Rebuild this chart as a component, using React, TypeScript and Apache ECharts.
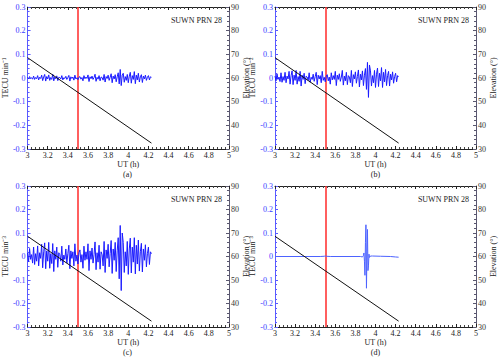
import React, { useEffect, useRef } from "react";
import * as echarts from "echarts";

const xTicksMin = 3;
const xTicksMax = 5;
const tecuMin = -0.3;
const tecuMax = 0.3;
const elevMin = 30;
const elevMax = 90;
const sampleStart = 3.0;
const sampleStep = 0.01;
const redLineTime = 3.5;
const stationLabel = "SUWN PRN 28";
const panelLetters = ["(a)", "(b)", "(c)", "(d)"];
const yNames = ["TECU min⁻¹", "TECU min⁻²", "TECU min⁻³", "TECU min⁻³"];

const elevationTimes = [3.0, 4.23];
const elevationValues = [68.6, 32.5];

const valuesA = [
  0.003, -0.004, 0.006, -0.002, 0.001, -0.005, 0.008, -0.006, 0.002, -0.003,
  0.010, -0.008, 0.003, -0.002, 0.012, -0.011, 0.004, 0.015, -0.013, 0.006,
  -0.004, 0.013, -0.010, 0.002, -0.006, 0.016, -0.012, 0.004, -0.003, 0.009,
  -0.011, 0.003, 0.002, -0.004, 0.010, -0.008, 0.001, -0.002, 0.007, -0.006,
  0.002, 0.011, -0.013, 0.005, -0.002, 0.004, -0.009, 0.012, -0.004, 0.001,
  -0.007, 0.003, 0.006, -0.005, 0.002, -0.012, 0.010, -0.003, 0.004, -0.002,
  0.013, -0.015, 0.005, -0.003, 0.008, -0.006, 0.002, 0.016, -0.014, 0.003,
  -0.005, 0.010, -0.012, 0.004, 0.002, -0.009, 0.015, -0.017, 0.006, -0.002,
  0.012, -0.010, 0.003, 0.018, -0.020, 0.008, -0.004, 0.014, -0.016, 0.005,
  0.022, -0.025, 0.036, -0.032, 0.012, 0.020, -0.018, 0.006, -0.010, 0.015,
  -0.020, 0.008, 0.024, -0.022, 0.010, -0.006, 0.027, -0.024, 0.012, -0.008,
  0.020, -0.017, 0.005, 0.014, -0.019, 0.008, -0.004, 0.012, -0.010, 0.003,
  0.010, -0.008, 0.005, 0.003,
];

const valuesB = [
  0.008, -0.012, 0.018, -0.006, 0.004, -0.015, 0.022, -0.018, 0.006, -0.010,
  0.024, -0.020, 0.008, -0.004, 0.028, -0.026, 0.010, 0.030, -0.028, 0.012,
  -0.010, 0.032, -0.026, 0.006, -0.014, 0.028, -0.034, 0.012, -0.006, 0.020,
  -0.024, 0.008, 0.004, -0.010, 0.022, -0.018, 0.003, -0.006, 0.016, -0.014,
  0.006, 0.024, -0.028, 0.012, -0.004, 0.010, -0.020, 0.028, -0.010, 0.003,
  -0.016, 0.008, 0.014, -0.012, 0.004, -0.026, 0.022, -0.008, 0.010, -0.006,
  0.028, -0.032, 0.012, -0.006, 0.018, -0.014, 0.004, 0.032, -0.030, 0.008,
  -0.012, 0.024, -0.028, 0.010, 0.004, -0.020, 0.032, -0.036, 0.014, -0.004,
  0.026, -0.022, 0.006, 0.034, -0.038, 0.016, -0.008, 0.030, -0.032, 0.012,
  0.040, -0.048, 0.066, -0.082, 0.055, 0.030, -0.034, 0.010, -0.020, 0.032,
  -0.040, 0.016, 0.042, -0.036, 0.020, -0.012, 0.044, -0.040, 0.024, -0.016,
  0.036, -0.032, 0.010, 0.028, -0.034, 0.016, -0.008, 0.026, -0.022, 0.006,
  0.020, -0.016, 0.010, 0.006,
];

const valuesC = [
  0.015, -0.022, 0.034, -0.012, 0.008, -0.028, 0.040, -0.034, 0.012, -0.020,
  0.045, -0.040, 0.016, -0.008, 0.052, -0.048, 0.020, 0.058, -0.052, 0.024,
  -0.020, 0.060, -0.050, 0.012, -0.030, 0.055, -0.064, 0.024, -0.012, 0.040,
  -0.046, 0.016, 0.008, -0.020, 0.044, -0.036, 0.006, -0.012, 0.032, -0.028,
  0.012, 0.048, -0.052, 0.024, -0.008, 0.020, -0.040, 0.054, -0.020, 0.006,
  -0.032, 0.016, 0.028, -0.024, 0.008, -0.050, 0.044, -0.016, 0.020, -0.012,
  0.054, -0.060, 0.024, -0.012, 0.036, -0.028, 0.008, 0.062, -0.056, 0.016,
  -0.024, 0.048, -0.054, 0.020, 0.008, -0.040, 0.064, -0.068, 0.028, -0.008,
  0.052, -0.044, 0.012, 0.068, -0.072, 0.032, -0.016, 0.060, -0.064, 0.024,
  0.080, -0.095, 0.132, -0.145, 0.100, 0.060, -0.068, 0.020, -0.040, 0.064,
  -0.076, 0.032, 0.078, -0.070, 0.040, -0.024, 0.080, -0.074, 0.048, -0.032,
  0.070, -0.062, 0.020, 0.056, -0.066, 0.032, -0.016, 0.050, -0.044, 0.012,
  0.040, -0.034, 0.020, 0.012,
];

const timesD = [
  3.0, 3.45, 3.49, 3.5, 3.51, 3.55, 3.85, 3.87, 3.88, 3.885, 3.89, 3.895,
  3.9, 3.905, 3.91, 3.915, 3.92, 3.925, 3.93, 3.935, 3.94, 3.95, 3.97, 4.05,
  4.15, 4.2, 4.23,
];
const valuesD = [
  0.0, 0.0, 0.001, 0.002, 0.001, 0.0, 0.0, -0.002, 0.004, 0.015, -0.02, -0.08,
  0.06, 0.135, -0.135, 0.02, 0.115, -0.06, -0.04, 0.01, -0.004, 0.002, 0.002, 0.001,
  0.0, -0.002, -0.003,
];

const panelRects = [
  { left: 26, top: 7, width: 203, height: 142 },
  { left: 275, top: 7, width: 201, height: 142 },
  { left: 26, top: 186, width: 203, height: 141 },
  { left: 275, top: 186, width: 201, height: 141 },
];

const FONT = "'Liberation Serif', 'Times New Roman', serif";
const FS = 8;

function gridSeries(values: number[]) {
  return values.map((v, i) => [sampleStart + i * sampleStep, v]);
}

export default function App() {
  const ref = useRef<HTMLDivElement>(null);
  useEffect(() => {
    document.body.style.margin = "0";
    if (!ref.current) return;
    const chart = echarts.init(ref.current, null, { renderer: "svg" });

    const panelData = [
      gridSeries(valuesA),
      gridSeries(valuesB),
      gridSeries(valuesC),
      timesD.map((t, i) => [t, valuesD[i]]),
    ];
    const blueColors = ["#1a1aff", "#1a1aff", "#1a1aff", "#4d63ff"];

    const grids: any[] = [];
    const xAxes: any[] = [];
    const yAxes: any[] = [];
    const series: any[] = [];
    const graphics: any[] = [];

    panelRects.forEach((r, k) => {
      grids.push({ left: r.left, top: r.top, width: r.width, height: r.height, containLabel: false });
      const xBase = {
        type: "value",
        gridIndex: k,
        min: xTicksMin,
        max: xTicksMax,
        interval: 0.2,
        axisLine: { show: true, onZero: false, lineStyle: { color: "#222", width: 1 } },
        axisTick: { show: true, inside: true, length: 3, lineStyle: { color: "#222" } },
        minorTick: { show: true, splitNumber: 5, length: 2, lineStyle: { color: "#444" } },
        splitLine: { show: false },
      };
      xAxes.push({
        ...xBase,
        position: "bottom",
        name: "UT (h)",
        nameLocation: "middle",
        nameGap: 11,
        nameTextStyle: { fontFamily: FONT, fontSize: FS, color: "#222" },
        axisLabel: { show: true, margin: 2, fontFamily: FONT, fontSize: FS, color: "#222" },
      });
      xAxes.push({ ...xBase, position: "top", axisLabel: { show: false } });
      yAxes.push({
        type: "value",
        gridIndex: k,
        position: "left",
        min: tecuMin,
        max: tecuMax,
        interval: 0.1,
        name: yNames[k],
        nameLocation: "middle",
        nameGap: 15,
        nameTextStyle: { fontFamily: FONT, fontSize: FS, color: "#222" },
        axisLine: { show: true, onZero: false, lineStyle: { color: "#5a5aff", width: 1 } },
        axisTick: { show: true, inside: true, length: 3, lineStyle: { color: "#5a5aff" } },
        minorTick: { show: true, splitNumber: 5, length: 2, lineStyle: { color: "#5a5aff" } },
        axisLabel: {
          margin: 2,
          fontFamily: FONT,
          fontSize: FS,
          color: "#3a3aff",
          formatter: (v: number) => String(Math.round(v * 10) / 10),
        },
        splitLine: { show: false },
      });
      yAxes.push({
        type: "value",
        gridIndex: k,
        position: "right",
        min: elevMin,
        max: elevMax,
        interval: 10,
        name: "Elevation (°)",
        nameLocation: "middle",
        nameGap: 12,
        nameTextStyle: { fontFamily: FONT, fontSize: FS, color: "#222" },
        axisLine: { show: true, onZero: false, lineStyle: { color: "#5a5870", width: 1 } },
        axisTick: { show: true, inside: true, length: 3, lineStyle: { color: "#5a5870" } },
        minorTick: { show: true, splitNumber: 5, length: 2, lineStyle: { color: "#5a5870" } },
        axisLabel: { margin: 2, fontFamily: FONT, fontSize: FS, color: "#333" },
        splitLine: { show: false },
      });

      series.push({
        type: "line",
        xAxisIndex: k * 2,
        yAxisIndex: k * 2,
        data: panelData[k],
        showSymbol: false,
        symbol: "none",
        lineStyle: { color: blueColors[k], width: 1 },
        z: 3,
        markLine: {
          silent: true,
          symbol: "none",
          label: { show: false },
          lineStyle: { color: "#ff2a2a", width: 1.5, type: "solid" },
          data: [{ xAxis: redLineTime }],
          z: 2,
        },
      });
      series.push({
        type: "line",
        xAxisIndex: k * 2,
        yAxisIndex: k * 2 + 1,
        data: elevationTimes.map((t, i) => [t, elevationValues[i]]),
        showSymbol: false,
        symbol: "none",
        lineStyle: { color: "#111", width: 1 },
        z: 4,
      });

      graphics.push({
        type: "text",
        right: 500 - (r.left + r.width - 7),
        top: r.top + 9,
        style: { text: stationLabel, font: `${FS}px ${FONT}`, fill: "#222" },
      });
      graphics.push({
        type: "text",
        x: r.left + r.width / 2,
        y: r.top + r.height + 25,
        style: {
          text: panelLetters[k],
          font: `${FS}px ${FONT}`,
          fill: "#222",
          textAlign: "center",
          textVerticalAlign: "middle",
        },
      });
    });

    chart.setOption({
      animation: false,
      backgroundColor: "#ffffff",
      grid: grids,
      xAxis: xAxes,
      yAxis: yAxes,
      series,
      graphic: graphics,
    });
    return () => chart.dispose();
  }, []);
  return <div ref={ref} style={{ width: 500, height: 363 }} />;
}
